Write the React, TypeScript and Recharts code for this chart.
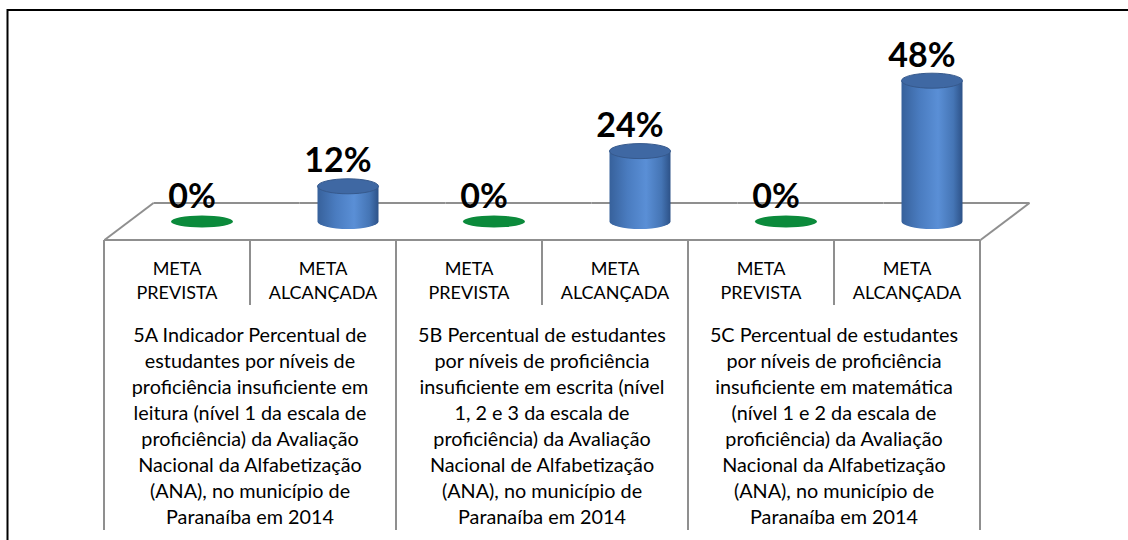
import React from "react";
import { BarChart, Bar, XAxis, YAxis, LabelList } from "recharts";

const SUB_LABELS = [["META", "PREVISTA"], ["META", "ALCANÇADA"]];
const GROUP_LINES = [
  [
    "5A Indicador Percentual de",
    "estudantes por níveis de",
    "proficiência insuficiente em",
    "leitura (nível 1 da escala de",
    "proficiência) da Avaliação",
    "Nacional da Alfabetização",
    "(ANA), no município de",
    "Paranaíba em 2014",
  ],
  [
    "5B Percentual de estudantes",
    "por níveis de proficiência",
    "insuficiente em escrita (nível",
    "1, 2 e 3 da escala de",
    "proficiência) da Avaliação",
    "Nacional de Alfabetização",
    "(ANA), no município de",
    "Paranaíba em 2014",
  ],
  [
    "5C Percentual de estudantes",
    "por níveis de proficiência",
    "insuficiente em matemática",
    "(nível 1 e 2 da escala de",
    "proficiência) da Avaliação",
    "Nacional da Alfabetização",
    "(ANA), no município de",
    "Paranaíba em 2014",
  ],
];
const META_PREVISTA = [0, 0, 0];
const META_ALCANCADA = [12, 24, 48];
const Y_DOMAIN = [0, 60];

const data = GROUP_LINES.flatMap((_, gi) => [
  { id: `g${gi}-p`, group: gi, sub: 0, value: META_PREVISTA[gi] },
  { id: `g${gi}-a`, group: gi, sub: 1, value: META_ALCANCADA[gi] },
]);

const W = 1128;
const H = 540;
const MARGIN = { top: 64, right: 148, bottom: 0, left: 104 };
const AXIS_H = 300;
const BAND = (W - MARGIN.left - MARGIN.right) / data.length;
const DEPTH_X = 49;
const DEPTH_Y = 37;
const DX = DEPTH_X / 2;
const DY = DEPTH_Y / 2;
const RY = 7.5;
const FONT = "Lato, 'Open Sans', sans-serif";
const GRID = "#8f8f8f";

const TableTick = (props: any) => {
  const { x, y, payload } = props;
  const i = props.index ?? payload?.index ?? 0;
  const row = data[i];
  const left = x - BAND / 2;
  const right = x + BAND / 2;
  const els: any[] = [];
  els.push(<line key="fe" x1={left} y1={y} x2={right} y2={y} stroke={GRID} strokeWidth={2} />);
  if (row.sub === 0) {
    els.push(<line key="gd" x1={left} y1={y} x2={left} y2={y + 290} stroke={GRID} strokeWidth={2} />);
    GROUP_LINES[row.group].forEach((ln, k) =>
      els.push(
        <text key={`gl${k}`} x={right} y={y + 102 + k * 26} textAnchor="middle" fontSize={19.8} fontFamily={FONT} fill="#000">
          {ln}
        </text>
      )
    );
  } else {
    els.push(<line key="sd" x1={left} y1={y} x2={left} y2={y + 65} stroke={GRID} strokeWidth={2} />);
  }
  if (i === data.length - 1) {
    els.push(<line key="gr" x1={right} y1={y} x2={right} y2={y + 290} stroke={GRID} strokeWidth={2} />);
  }
  SUB_LABELS[row.sub].forEach((ln, k) =>
    els.push(
      <text key={`sl${k}`} x={x} y={y + 35 + k * 24} textAnchor="middle" fontSize={18} fontFamily={FONT} fill="#000">
        {ln}
      </text>
    )
  );
  return <g>{els}</g>;
};

const Floor = (props: any) => {
  const { x, y, width, height, index } = props;
  const cx = x + width / 2;
  const left = cx - BAND / 2;
  const right = cx + BAND / 2;
  const base = y + height;
  const els: any[] = [];
  // back edge segment for this category
  els.push(
    <line key="b" x1={left + DEPTH_X} y1={base - DEPTH_Y} x2={right + DEPTH_X} y2={base - DEPTH_Y} stroke={GRID} strokeWidth={2} />
  );
  if (index === 0) {
    els.push(<line key="l" x1={left} y1={base} x2={left + DEPTH_X} y2={base - DEPTH_Y} stroke={GRID} strokeWidth={2} />);
  }
  if (index === data.length - 1) {
    els.push(<line key="r" x1={right} y1={base} x2={right + DEPTH_X} y2={base - DEPTH_Y} stroke={GRID} strokeWidth={2} />);
  }
  return <g>{els}</g>;
};

const Cylinder = (props: any) => {
  const { x, y, width, height, value, index } = props;
  const cx = x + width / 2 + DX;
  const rx = width / 2;
  const bottom = y + height - DY;
  const top = y - DY;
  if (!value) {
    return <ellipse cx={cx} cy={bottom} rx={31} ry={6} fill="#0b8a3b" />;
  }
  const gid = `cyl${index}`;
  return (
    <g>
      <defs>
        <linearGradient id={gid} x1="0" y1="0" x2="1" y2="0">
          <stop offset="0%" stopColor="#37619b" />
          <stop offset="30%" stopColor="#4a7cc0" />
          <stop offset="60%" stopColor="#5a8fd6" />
          <stop offset="85%" stopColor="#4575b5" />
          <stop offset="100%" stopColor="#2d5288" />
        </linearGradient>
      </defs>
      <path
        d={`M${cx - rx},${top} L${cx - rx},${bottom} A${rx},${RY} 0 0 0 ${cx + rx},${bottom} L${cx + rx},${top} Z`}
        fill={`url(#${gid})`}
      />
      <ellipse cx={cx} cy={top} rx={rx} ry={RY} fill="#3f68a3" stroke="#36598c" strokeWidth={1} />
    </g>
  );
};

const ValueLabel = (props: any) => {
  const { x, y, width, value } = props;
  return (
    <text
      x={x + width / 2 + DX - 10}
      y={y - DY - 14}
      textAnchor="middle"
      fontSize={34}
      fontWeight="bold"
      fontFamily={FONT}
      fill="#000"
    >
      {`${value}%`}
    </text>
  );
};

export default function App() {
  return (
    <div style={{ position: "fixed", left: 0, top: 0, width: W, height: H, background: "#fff" }}>
      <svg style={{ position: "absolute", left: 0, top: 0 }} width={W} height={H}>
        <line x1={7.5} y1={10} x2={W} y2={10} stroke="#000" strokeWidth={2} />
        <line x1={7.5} y1={9} x2={7.5} y2={H} stroke="#000" strokeWidth={2} />
      </svg>
      <div style={{ position: "absolute", left: 0, top: 0 }}>
        <BarChart width={W} height={H} data={data} margin={MARGIN} barSize={61}>
          <XAxis
            dataKey="id"
            height={AXIS_H}
            axisLine={false}
            tickLine={false}
            tickSize={0}
            tickMargin={0}
            interval={0}
            tick={<TableTick />}
          />
          <YAxis hide domain={Y_DOMAIN} />
          <Bar dataKey="value" shape={<Cylinder />} background={<Floor />} isAnimationActive={false}>
            <LabelList dataKey="value" content={<ValueLabel />} />
          </Bar>
        </BarChart>
      </div>
    </div>
  );
}
